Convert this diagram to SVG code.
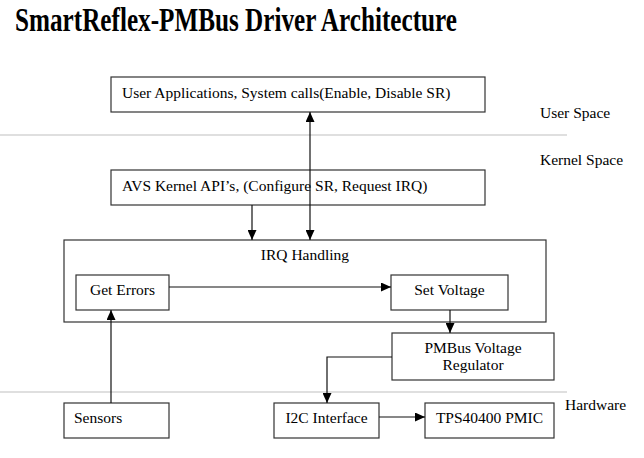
<svg xmlns="http://www.w3.org/2000/svg" width="644" height="458" viewBox="0 0 644 458">
<style>
.box{fill:#fff;stroke:#333;stroke-width:1.2}
.c{text-anchor:middle}
.sep{stroke:#d4d4d4;stroke-width:1.5;fill:none}
.conn{stroke:#111;stroke-width:1.2;fill:none}
</style>
<defs>
<marker id="ah" markerUnits="userSpaceOnUse" markerWidth="10" markerHeight="9" viewBox="0 0 10 9" refX="10" refY="4.5" orient="auto-start-reverse">
<path d="M0,0 L10,4.5 L0,9 z" fill="#000"/>
</marker>
</defs>
<rect width="644" height="458" fill="#fff"/>
<text x="15" y="31" font-family="Liberation Serif, DejaVu Serif, serif" font-weight="bold" font-size="34" textLength="442" lengthAdjust="spacingAndGlyphs">SmartReflex-PMBus Driver Architecture</text>

<g id="separators">
<line class="sep" x1="0" y1="135" x2="567" y2="135"/>
<line class="sep" x1="0" y1="392" x2="567" y2="392"/>
</g>

<g font-family="Liberation Serif, DejaVu Serif, serif" font-size="15.5" fill="#000">
<g id="labels">
<text x="540" y="118">User Space</text>
<text x="540" y="165">Kernel Space</text>
<text x="565" y="410">Hardware</text>
</g>

<g id="user-apps">
<rect class="box" x="111" y="77" width="374" height="35"/>
<text x="122" y="98">User Applications, System calls(Enable, Disable SR)</text>
</g>
<g id="avs-api">
<rect class="box" x="111" y="170" width="374" height="35"/>
<text x="122" y="191">AVS Kernel API’s, (Configure SR, Request IRQ)</text>
</g>
<g id="irq-handling">
<rect class="box" x="64" y="240" width="482" height="82"/>
<text class="c" x="305" y="260">IRQ Handling</text>
</g>
<g id="get-errors">
<rect class="box" x="76" y="275" width="93" height="35"/>
<text class="c" x="122.5" y="295">Get Errors</text>
</g>
<g id="set-voltage">
<rect class="box" x="391" y="275" width="117" height="35"/>
<text class="c" x="449.5" y="295">Set Voltage</text>
</g>
<g id="pmbus-regulator">
<rect class="box" x="392" y="333" width="162" height="47"/>
<text class="c" x="473" y="353">PMBus Voltage</text>
<text class="c" x="473" y="370">Regulator</text>
</g>
<g id="sensors">
<rect class="box" x="64" y="403" width="105" height="35"/>
<text x="74" y="423">Sensors</text>
</g>
<g id="i2c-interface">
<rect class="box" x="274" y="403" width="105" height="35"/>
<text class="c" x="326.5" y="423">I2C Interface</text>
</g>
<g id="tps-pmic">
<rect class="box" x="425" y="403" width="129" height="35"/>
<text class="c" x="489.5" y="423">TPS40400 PMIC</text>
</g>
</g>

<g id="connectors">
<line class="conn" x1="252" y1="205" x2="252" y2="240" marker-end="url(#ah)"/>
<line class="conn" x1="310" y1="240" x2="310" y2="112" marker-start="url(#ah)" marker-end="url(#ah)"/>
<line class="conn" x1="169" y1="287" x2="391" y2="287" marker-end="url(#ah)"/>
<line class="conn" x1="450" y1="310" x2="450" y2="333" marker-end="url(#ah)"/>
<polyline class="conn" points="392,357 327,357 327,403" marker-end="url(#ah)"/>
<line class="conn" x1="379" y1="417" x2="425" y2="417" marker-end="url(#ah)"/>
<line class="conn" x1="111" y1="403" x2="111" y2="310" marker-end="url(#ah)"/>
</g>
</svg>
